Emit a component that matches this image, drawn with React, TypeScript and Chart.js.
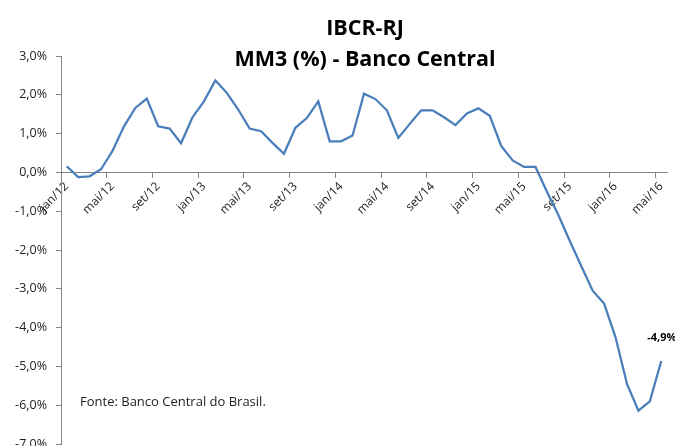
import React, { useEffect, useRef } from "react";
import { Chart, registerables } from "chart.js";

Chart.register(...registerables);

const titleLines = ["IBCR-RJ", "MM3 (%) - Banco Central"];
const sourceNote = "Fonte: Banco Central do Brasil.";
const lastLabel = "-4,9%";

const months = [
  "jan/12", "fev/12", "mar/12", "abr/12", "mai/12", "jun/12", "jul/12", "ago/12", "set/12", "out/12", "nov/12", "dez/12",
  "jan/13", "fev/13", "mar/13", "abr/13", "mai/13", "jun/13", "jul/13", "ago/13", "set/13", "out/13", "nov/13", "dez/13",
  "jan/14", "fev/14", "mar/14", "abr/14", "mai/14", "jun/14", "jul/14", "ago/14", "set/14", "out/14", "nov/14", "dez/14",
  "jan/15", "fev/15", "mar/15", "abr/15", "mai/15", "jun/15", "jul/15", "ago/15", "set/15", "out/15", "nov/15", "dez/15",
  "jan/16", "fev/16", "mar/16", "abr/16", "mai/16",
];

const mm3 = [
  0.16, -0.12, -0.10, 0.08, 0.55, 1.18, 1.66, 1.90, 1.19, 1.13, 0.75, 1.42,
  1.83, 2.37, 2.05, 1.62, 1.13, 1.06, 0.76, 0.48, 1.15, 1.40, 1.83, 0.80,
  0.80, 0.95, 2.03, 1.89, 1.60, 0.89, 1.25, 1.60, 1.60, 1.42, 1.22, 1.52,
  1.65, 1.46, 0.68, 0.31, 0.14, 0.14, -0.50, -1.10, -1.77, -2.41, -3.05, -3.38,
  -4.25, -5.45, -6.14, -5.90, -4.86,
];

const yMin = -7;
const yMax = 3;
const yStep = 1;

const FONT = "'Open Sans', 'Liberation Sans', sans-serif";
const AXIS = "#868686";

const textPlugin = {
  id: "texts",
  afterDraw(chart: any) {
    const ctx = chart.ctx;
    ctx.save();
    ctx.fillStyle = "#000";
    ctx.textAlign = "center";
    ctx.textBaseline = "alphabetic";
    ctx.font = `bold 21.5px ${FONT}`;
    ctx.fillText(titleLines[0], 365, 34.5);
    ctx.fillText(titleLines[1], 365, 65.5);

    ctx.textAlign = "left";
    ctx.textBaseline = "middle";
    ctx.font = `13px ${FONT}`;
    ctx.fillStyle = "#222";
    ctx.fillText(sourceNote, 80, 402);

    const xs = chart.scales.x;
    const ys = chart.scales.y;
    const li = mm3.length - 1;
    const px = xs.getPixelForValue(li);
    const py = ys.getPixelForValue(mm3[li]);
    ctx.font = `bold 11px ${FONT}`;
    ctx.fillStyle = "#000";
    ctx.fillText(lastLabel, px - 14, py - 23);
    ctx.restore();
  },
};

export default function App() {
  const ref = useRef<HTMLCanvasElement | null>(null);
  useEffect(() => {
    if (!ref.current) return;
    const chart = new Chart(ref.current, {
      type: "line",
      data: {
        labels: months,
        datasets: [
          {
            data: mm3,
            borderColor: "#4A7EBB",
            borderWidth: 2.25,
            pointRadius: 0,
            tension: 0,
            fill: false,
          },
        ],
      },
      options: {
        animation: false,
        responsive: false,
        events: [],
        layout: { padding: { top: 56, bottom: 2, right: 8, left: 0 } },
        plugins: {
          legend: { display: false },
          tooltip: { enabled: false },
          title: { display: false },
        },
        scales: {
          x: {
            type: "category",
            position: { y: 0 } as any,
            offset: true,
            grid: {
              offset: true,
              drawOnChartArea: false,
              drawTicks: true,
              tickLength: 5,
              color: (c: any) => (c.index % 4 === 0 ? AXIS : "rgba(0,0,0,0)"),
            },
            border: { color: AXIS, width: 1 },
            ticks: {
              autoSkip: false,
              maxRotation: 45,
              minRotation: 45,
              padding: 2,
              color: "#222",
              font: { family: FONT, size: 12 },
              callback: (_v: any, i: number) => (i % 4 === 0 ? months[i] : ""),
            },
          },
          y: {
            min: yMin,
            max: yMax,
            grid: {
              drawOnChartArea: false,
              drawTicks: true,
              tickLength: 5,
              color: AXIS,
            },
            border: { color: AXIS, width: 1 },
            ticks: {
              stepSize: yStep,
              padding: 9,
              color: "#222",
              font: { family: FONT, size: 12.5 },
              callback: (v: any) => Number(v).toFixed(1).replace(".", ",") + "%",
            },
            afterFit: (s: any) => {
              s.width = 61;
              s.paddingTop = 0;
              s.paddingBottom = 0;
            },
          },
        },
      },
      plugins: [textPlugin],
    });
    return () => chart.destroy();
  }, []);
  return (
    <div style={{ position: "fixed", left: 0, top: 0, width: 675, height: 446, background: "#fff", overflow: "hidden" }}>
      <canvas ref={ref} width={675} height={446} style={{ display: "block" }} />
    </div>
  );
}
